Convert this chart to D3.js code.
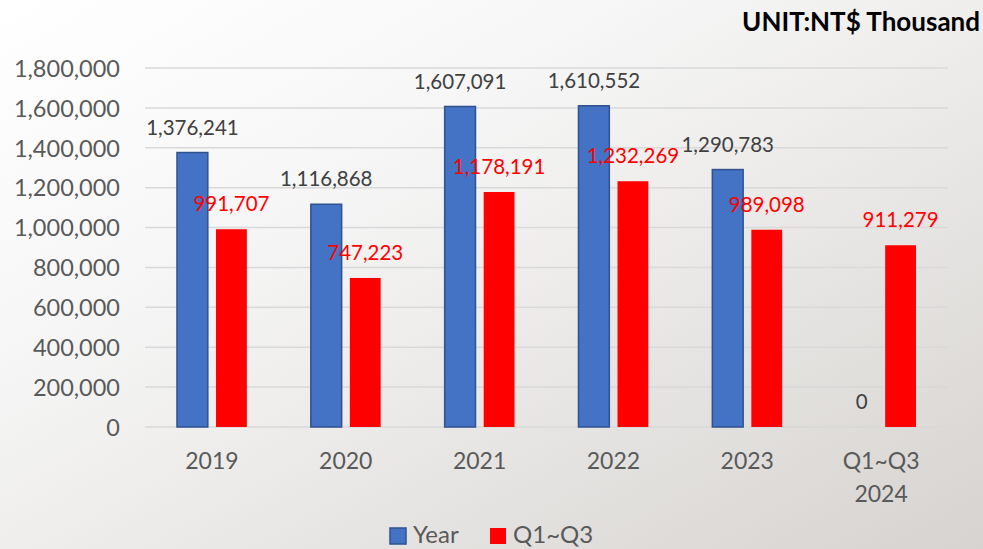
<!DOCTYPE html>
<html><head><meta charset="utf-8">
<script src="https://cdn.jsdelivr.net/npm/d3@7"></script>
<style>body{margin:0;padding:0;overflow:hidden}svg{display:block}</style>
</head><body>
<script>
const categories = [["2019"],["2020"],["2021"],["2022"],["2023"],["Q1~Q3","2024"]];
const seriesNames = ["Year","Q1~Q3"];
const yearValues = [1376241,1116868,1607091,1610552,1290783,0];
const q1q3Values = [991707,747223,1178191,1232269,989098,911279];
const yTicks = [0,200000,400000,600000,800000,1000000,1200000,1400000,1600000,1800000];
const colors = ["#4472C4","#FF0000"];
const labelColors = ["#404040","#FF0000"];

const W=983,H=549;
const svg=d3.select("body").append("svg").attr("width",W).attr("height",H);
const defs=svg.append("defs");
const g1=defs.append("linearGradient").attr("id","bg").attr("x1","0").attr("y1","0").attr("x2","1").attr("y2","1");
[[0,"#ffffff"],[0.3,"#f7f7f7"],[0.5,"#efeeed"],[0.7,"#e5e3e1"],[1,"#d6d3d0"]].forEach(s=>g1.append("stop").attr("offset",s[0]).attr("stop-color",s[1]));
svg.append("rect").attr("width",W).attr("height",H).attr("fill","url(#bg)");

const keys=categories.map(c=>c.join(" "));
const x0=d3.scaleBand().domain(keys).range([145,948]).padding(0);
const x1=d3.scaleBand().domain(seriesNames).range([0,x0.bandwidth()]).paddingInner(0.21).paddingOuter(0.82);
const y=d3.scaleLinear().domain([0,1800000]).range([427,68]);
const font="Lato, 'Open Sans', sans-serif";

// gridlines
svg.append("g").selectAll("line").data(yTicks).join("line")
  .attr("x1",145).attr("x2",948).attr("y1",d=>y(d)).attr("y2",d=>y(d))
  .attr("stroke","#d9d9d9").attr("stroke-width",1.5);

// y axis labels
const yAxis=d3.axisLeft(y).tickValues(yTicks).tickSize(0).tickPadding(0).tickFormat(d3.format(","));
const ya=svg.append("g").attr("transform","translate(120,0)").call(yAxis);
ya.select(".domain").remove();
ya.selectAll("text").attr("font-family",font).attr("font-size",23.5).attr("fill","#595959").attr("dy","0.35em");

// x axis labels
const xa=svg.append("g");
categories.forEach((c,i)=>{
  const t=xa.append("text").attr("x",x0(keys[i])+x0.bandwidth()/2).attr("y",469)
    .attr("text-anchor","middle").attr("font-family",font).attr("font-size",23).attr("fill","#595959");
  c.forEach((line,j)=>t.append("tspan").attr("x",x0(keys[i])+x0.bandwidth()/2).attr("dy",j===0?0:33).text(line));
});

const seriesData=[yearValues,q1q3Values];
seriesData.forEach((vals,si)=>{
  const gg=svg.append("g");
  gg.selectAll("rect").data(vals).join("rect")
    .attr("x",(d,i)=>x0(keys[i])+x1(seriesNames[si]))
    .attr("width",x1.bandwidth())
    .attr("y",d=>y(d)).attr("height",d=>y(0)-y(d))
    .attr("fill",colors[si])
    .attr("stroke",si===0?"#2F528F":"none").attr("stroke-width",1.5);
});
seriesData.forEach((vals,si)=>{
  svg.append("g").selectAll("text").data(vals).join("text")
    .attr("x",(d,i)=>x0(keys[i])+x1(seriesNames[si])+x1.bandwidth()/2)
    .attr("y",d=>y(d)-25).attr("dy","0.35em")
    .attr("text-anchor","middle").attr("font-family",font).attr("font-size",20.5)
    .attr("fill",labelColors[si]).text(d=>d3.format(",")(d));
});

// title
svg.append("text").attr("x",980).attr("y",31).attr("text-anchor","end")
  .attr("font-family",font).attr("font-weight","bold").attr("font-size",26).attr("fill","#000")
  .text("UNIT:NT$ Thousand");

// legend
const lg=svg.append("g");
const legX=[390,490];
seriesNames.forEach((n,i)=>{
  lg.append("rect").attr("x",legX[i]).attr("y",528).attr("width",16).attr("height",16)
    .attr("fill",colors[i]).attr("stroke",i===0?"#2F528F":"none").attr("stroke-width",1.5);
  lg.append("text").attr("x",legX[i]+23).attr("y",543).attr("font-family",font).attr("font-size",24)
    .attr("fill","#595959").text(n);
});
</script>
</body></html>
